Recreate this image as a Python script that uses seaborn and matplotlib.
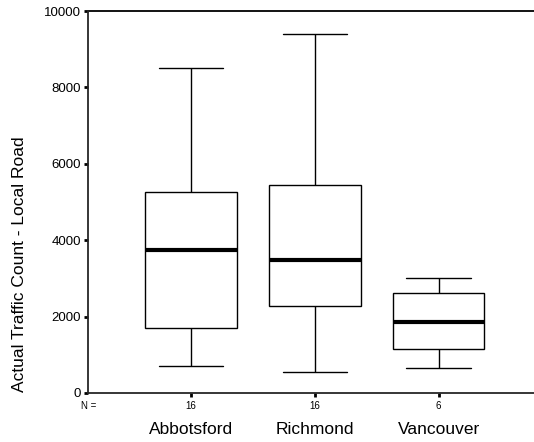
import numpy as np
import pandas as pd
import seaborn as sns
import matplotlib
matplotlib.use("Agg")
import matplotlib.pyplot as plt
import matplotlib.transforms as mtrans

sites = ["Abbotsford", "Richmond", "Vancouver"]
n_counts = [16, 16, 6]
mins = [700, 560, 650]
q1s = [1700, 2280, 1160]
medians = [3750, 3480, 1870]
q3s = [5250, 5450, 2610]
maxs = [8500, 9400, 3000]

# five-number summaries -> five values per site so the quartiles come out exact
rows = []
for i, s in enumerate(sites):
    for v in (mins[i], q1s[i], medians[i], q3s[i], maxs[i]):
        rows.append({"site": s, "count": v})
df = pd.DataFrame(rows)

sns.set_style("white")
plt.rcParams["font.family"] = ["Liberation Sans", "DejaVu Sans"]
plt.rcParams["text.color"] = "black"
plt.rcParams["axes.labelcolor"] = "black"
plt.rcParams["xtick.color"] = "black"
plt.rcParams["ytick.color"] = "black"

fig = plt.figure(figsize=(5.34, 4.42), dpi=100)
ax = fig.add_axes([0.165, 0.111, 0.835, 0.864])

sns.boxplot(data=df, x="site", y="count", order=sites, whis=(0, 100),
            width=0.74, color="white", linecolor="black", linewidth=1,
            medianprops=dict(linewidth=3, color="black"), ax=ax)

# wider whisker caps, as in the SPSS look
for line in ax.lines:
    x = np.asarray(line.get_xdata(), dtype=float)
    y = np.asarray(line.get_ydata(), dtype=float)
    if len(x) == 2 and y[0] == y[1] and line.get_linewidth() < 2:
        c = x.mean()
        line.set_xdata([c - 0.26, c + 0.26])

ax.set_xlim(-0.83, 2.77)
ax.set_ylim(0, 10000)
ax.set_yticks([0, 2000, 4000, 6000, 8000, 10000])
ax.tick_params(axis="y", labelsize=9.5, length=3, width=2, direction="out", left=True, pad=2)
ax.set_xticks(range(len(sites)))
ax.set_xticklabels([str(n) for n in n_counts])
ax.tick_params(axis="x", labelsize=7, length=3, width=2, direction="out", bottom=True, pad=3)

for side in ["top", "right"]:
    ax.spines[side].set_visible(False)
ax.spines["left"].set_linewidth(1.3)
ax.spines["bottom"].set_linewidth(1.3)
ax.axhline(10000, color="black", lw=1.3, clip_on=False)

ax.set_xlabel("")
ax.set_ylabel("Actual Traffic Count - Local Road", fontsize=12.5)
ax.yaxis.set_label_coords(-0.136, 0.338)

trans = mtrans.blended_transform_factory(ax.transData, ax.transAxes)
for i, s in enumerate(sites):
    ax.text(i, -0.097, s, transform=trans, ha="center", va="center", fontsize=12.5)
ax.text(0.018, -0.034, "N =", transform=ax.transAxes, ha="right", va="center", fontsize=7)

fig.savefig("out.png", dpi=100)
